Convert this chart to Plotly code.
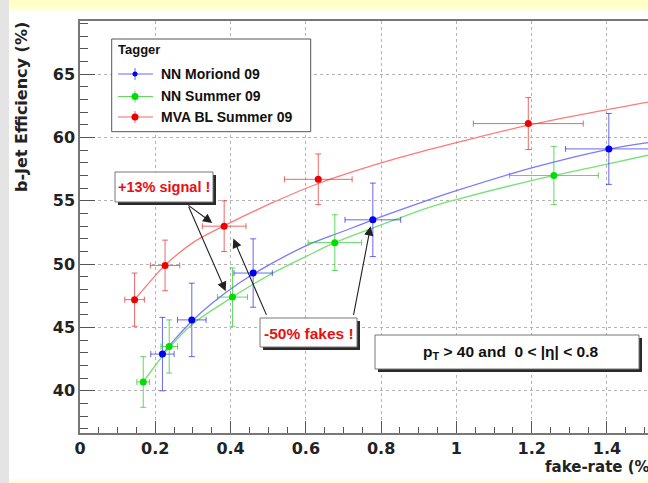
import plotly.graph_objects as go

# ---------------- data: b-jet efficiency (%) vs. fake rate (%) ----------------
nn_moriond_x = [0.219, 0.297, 0.460, 0.778, 1.405]
nn_moriond_y = [42.9, 45.6, 49.3, 53.5, 59.1]
nn_moriond_ex = [0.031, 0.038, 0.051, 0.074, 0.115]
nn_moriond_ey = [2.9, 2.9, 2.7, 2.9, 2.8]

nn_summer_x = [0.168, 0.237, 0.405, 0.677, 1.259]
nn_summer_y = [40.7, 43.5, 47.4, 51.7, 57.0]
nn_summer_ex = [0.017, 0.022, 0.040, 0.071, 0.118]
nn_summer_ey = [2.0, 2.1, 2.3, 2.2, 2.3]

mva_x = [0.145, 0.226, 0.383, 0.633, 1.191]
mva_y = [47.2, 49.9, 53.0, 56.7, 61.1]
mva_ex = [0.026, 0.039, 0.058, 0.090, 0.146]
mva_ey = [2.1, 2.0, 2.0, 2.0, 2.05]

# fitted trend curves (sampled)
fit_moriond_x = [0.219, 0.25, 0.297, 0.35, 0.425, 0.5, 0.6, 0.7, 0.778, 0.9, 1.0, 1.2, 1.4, 1.509]
fit_moriond_y = [42.9, 44.0, 45.5, 46.9, 48.55, 49.9, 51.45, 52.6, 53.5, 54.8, 55.8, 57.6, 59.05, 59.6]

fit_summer_x = [0.168, 0.2, 0.237, 0.3, 0.4, 0.5, 0.6, 0.677, 0.8, 0.93, 1.0, 1.2, 1.4, 1.509]
fit_summer_y = [40.7, 42.0, 43.4, 45.3, 47.3, 49.1, 50.6, 51.7, 53.1, 54.5, 55.1, 56.6, 57.9, 58.6]

fit_mva_x = [0.145, 0.2, 0.225, 0.3, 0.381, 0.425, 0.5, 0.631, 0.8, 0.921, 1.0, 1.188, 1.4, 1.509]
fit_mva_y = [47.2, 49.1, 49.9, 51.7, 53.0, 53.65, 54.7, 56.35, 58.0, 59.0, 59.6, 60.95, 62.2, 62.8]

x_ticks = [0, 0.2, 0.4, 0.6, 0.8, 1, 1.2, 1.4]
x_tick_labels = ["0", "0.2", "0.4", "0.6", "0.8", "1", "1.2", "1.4"]
y_ticks = [40, 45, 50, 55, 60, 65]
y_tick_labels = ["40", "45", "50", "55", "60", "65"]

series_names = ["NN Moriond 09", "NN Summer 09", "MVA BL Summer 09"]
legend_title = "Tagger"
x_title = "fake-rate (%)"
y_title = "b-Jet Efficiency (%)"
note_signal = "+13% signal !"
note_fakes = "-50% fakes !"
note_cuts = "p<sub>T</sub> &gt; 40 and\u00a0 0 &lt; |\u03b7| &lt; 0.8"

# ---------------- layout geometry ----------------
W, H = 648, 483
L, R, T, B = 80, 0, 21, 50


def px(x):
    return (x - L) / (W - L - R)


def py(y):
    return (H - B - y) / (H - T - B)


BLUE, GREEN, RED = "#0000ee", "#00dd00", "#ee0000"
BLUE_E, GREEN_E, RED_E = "rgba(40,40,230,0.7)", "rgba(30,200,30,0.7)", "rgba(230,40,40,0.7)"
BLUE_F, GREEN_F, RED_F = "#7a7aff", "#78e078", "#ff7a7a"

fig = go.Figure()

# fit curves
for fx, fy, c in [(fit_mva_x, fit_mva_y, RED_F),
                  (fit_moriond_x, fit_moriond_y, BLUE_F),
                  (fit_summer_x, fit_summer_y, GREEN_F)]:
    fig.add_trace(go.Scatter(x=fx, y=fy, mode="lines", line=dict(color=c, width=1.3, shape="spline"),
                             hoverinfo="skip", showlegend=False))

# data points with error bars
for name, x, y, ex, ey, c, ce in [
    (series_names[0], nn_moriond_x, nn_moriond_y, nn_moriond_ex, nn_moriond_ey, BLUE, BLUE_E),
    (series_names[1], nn_summer_x, nn_summer_y, nn_summer_ex, nn_summer_ey, GREEN, GREEN_E),
    (series_names[2], mva_x, mva_y, mva_ex, mva_ey, RED, RED_E),
]:
    fig.add_trace(go.Scatter(
        x=x, y=y, mode="markers", name=name, showlegend=False,
        marker=dict(color=c, size=7),
        error_x=dict(type="data", array=ex, color=ce, thickness=1, width=3),
        error_y=dict(type="data", array=ey, color=ce, thickness=1, width=3),
    ))

shapes = []
# page decoration: yellow bands and grey side strip
for y0, y1, col in [(0, 7, "#ffffc6"), (7, 10, "#ffffe0"), (10, 13, "#fffff2"), (479, 483, "#ffffdc")]:
    shapes.append(dict(type="rect", xref="paper", yref="paper", x0=px(0), x1=px(W), y0=py(y1), y1=py(y0),
                       fillcolor=col, line=dict(width=0), layer="below"))
shapes.append(dict(type="rect", xref="paper", yref="paper", x0=px(0), x1=px(9), y0=py(H), y1=py(0),
                   fillcolor="#e4e4e4", line=dict(width=0), layer="below"))

# legend frame
shapes.append(dict(type="rect", xref="paper", yref="paper", x0=px(111.7), x1=px(310.7), y0=py(131.7), y1=py(39),
                   fillcolor="white", line=dict(color="#555", width=1), layer="above"))
legend_rows = [74, 96.5, 117]
for row, c, ce, dot in zip(legend_rows, [BLUE, GREEN, RED], [BLUE_E, GREEN_E, RED_E], [2.5, 3.5, 3.5]):
    shapes.append(dict(type="line", xref="paper", yref="paper", x0=px(118), x1=px(153), y0=py(row), y1=py(row),
                       line=dict(color=ce, width=1), layer="above"))
    shapes.append(dict(type="line", xref="paper", yref="paper", x0=px(135), x1=px(135), y0=py(row - 6), y1=py(row + 6),
                       line=dict(color=ce, width=1), layer="above"))
    shapes.append(dict(type="circle", xref="paper", yref="paper", x0=px(135 - dot), x1=px(135 + dot),
                       y0=py(row + dot), y1=py(row - dot), fillcolor=c, line=dict(width=0), layer="above"))


def boxed(x0, y0, x1, y1):
    # box with a drop shadow on the right and bottom
    shapes.append(dict(type="rect", xref="paper", yref="paper", x0=px(x0 + 3), x1=px(x1 + 3),
                       y0=py(y1 + 3), y1=py(y0 + 3), fillcolor="#2a2a2a", line=dict(width=0), layer="above"))
    shapes.append(dict(type="rect", xref="paper", yref="paper", x0=px(x0), x1=px(x1),
                       y0=py(y1), y1=py(y0), fillcolor="white", line=dict(color="#777", width=1), layer="above"))


boxed(115, 172, 213, 202)
boxed(260, 318, 357, 347)
boxed(375, 335, 639, 369)

annotations = []
txt_font = dict(family="Liberation Sans, Arial", size=14, weight="bold")
annotations.append(dict(xref="paper", yref="paper", x=px(115.5), y=py(50), xanchor="left", yanchor="middle",
                        text=legend_title, showarrow=False, font=dict(txt_font, size=13, color="#111")))
for row, name in zip(legend_rows, series_names):
    annotations.append(dict(xref="paper", yref="paper", x=px(159), y=py(row), xanchor="left", yanchor="middle",
                            text=name, showarrow=False, font=dict(txt_font, color="#111")))

annotations.append(dict(xref="paper", yref="paper", x=px(163.5), y=py(187), xanchor="center", yanchor="middle",
                        text=note_signal, showarrow=False, font=dict(txt_font, color="#e81010", size=14.5)))
annotations.append(dict(xref="paper", yref="paper", x=px(308.5), y=py(333), xanchor="center", yanchor="middle",
                        text=note_fakes, showarrow=False, font=dict(txt_font, color="#e81010", size=15.5)))
annotations.append(dict(xref="paper", yref="paper", x=px(510), y=py(352), xanchor="center", yanchor="middle",
                        text=note_cuts, showarrow=False, font=dict(txt_font, color="#111", size=15.5)))

# arrows pointing at the compared working points (data coordinates)
arrow_list = [
    ((0.284, 54.73), (0.3515, 53.25)),
    ((0.287, 54.65), (0.387, 47.86)),
    ((0.497, 45.88), (0.4073, 52.02)),
    ((0.726, 45.88), (0.772, 52.99)),
]
for (tx, ty), (hx, hy) in arrow_list:
    annotations.append(dict(x=hx, y=hy, ax=tx, ay=ty, xref="x", yref="y", axref="x", ayref="y",
                            text="", showarrow=True, arrowhead=2, arrowsize=1.7, arrowwidth=1.1,
                            arrowcolor="#222", standoff=0))

# axis titles
axis_font = dict(family="DejaVu Sans", size=15, weight="bold", color="#222")
annotations.append(dict(xref="paper", yref="paper", x=px(543), y=py(467), xanchor="left", yanchor="middle",
                        text=x_title, showarrow=False, font=axis_font))
annotations.append(dict(xref="paper", yref="paper", x=px(22), y=py(20), xanchor="center", yanchor="top",
                        text=y_title, textangle=-90, showarrow=False, font=dict(axis_font, size=16)))

tick_font = dict(family="DejaVu Sans", size=16, weight="bold", color="#222")
fig.update_layout(
    width=W, height=H,
    margin=dict(l=L, r=R, t=T, b=B),
    paper_bgcolor="white", plot_bgcolor="white",
    showlegend=False,
    shapes=shapes, annotations=annotations,
    xaxis=dict(range=[0, (W - L - R) / 376.4], tickvals=x_ticks, ticktext=x_tick_labels,
               ticks="inside", ticklen=12, tickcolor="#555", tickwidth=1,
               showline=True, linecolor="#777", linewidth=1.5, mirror=True,
               showgrid=True, gridcolor="#b4b4b4", griddash="dot", gridwidth=1,
               zeroline=False, tickfont=tick_font,
               minor=dict(dtick=0.05, tick0=0, ticks="inside", ticklen=6, tickcolor="#555", showgrid=False)),
    yaxis=dict(range=[36.67, 69.2], tickvals=y_ticks, ticktext=y_tick_labels,
               ticks="inside", ticklen=15, tickcolor="#555", tickwidth=1,
               showline=True, linecolor="#777", linewidth=1.5,
               showgrid=True, gridcolor="#b4b4b4", griddash="dot", gridwidth=1,
               zeroline=False, tickfont=tick_font,
               minor=dict(dtick=1, tick0=0, ticks="inside", ticklen=8, tickcolor="#555", showgrid=False)),
)

fig.write_html("out.html")
